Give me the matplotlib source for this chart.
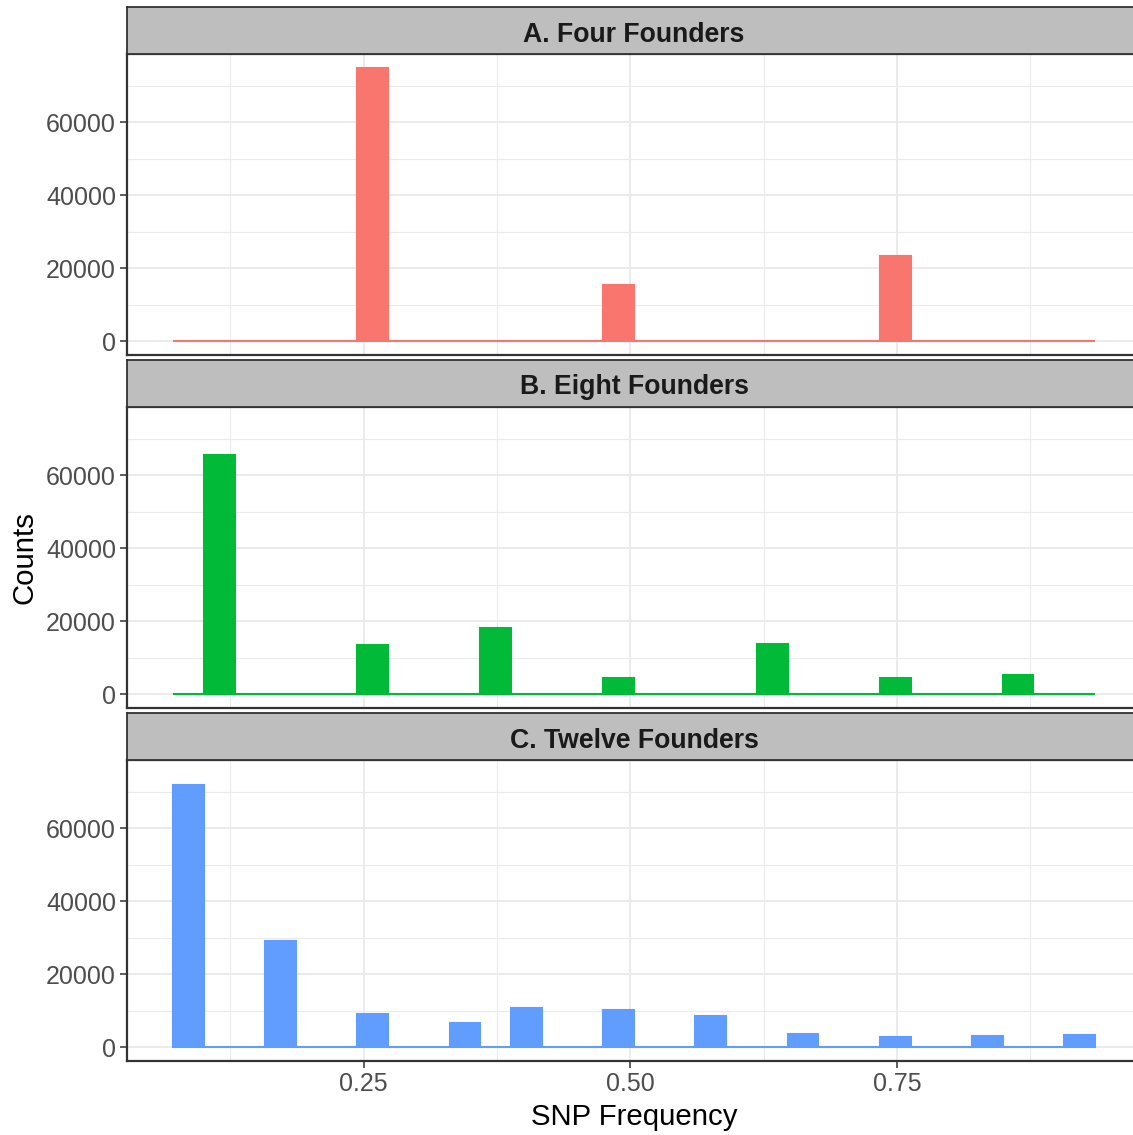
import matplotlib
matplotlib.use("Agg")
import matplotlib.pyplot as plt
import numpy as np

plt.rcParams['font.family'] = ['Liberation Sans', 'DejaVu Sans']

# histogram settings: 30 bins spanning the observed SNP frequencies
n_bins = 30
freq_min, freq_max = 0.0856, 0.9212

panel_titles = ["A. Four Founders", "B. Eight Founders", "C. Twelve Founders"]
panel_colors = ["#F8766D", "#00BA38", "#619CFF"]

# counts per bin (30 bins)
counts_four = [0] * 30
counts_four[6] = 75000
counts_four[14] = 15300
counts_four[23] = 23400

counts_eight = [0] * 30
counts_eight[1] = 65500
counts_eight[6] = 13400
counts_eight[10] = 18300
counts_eight[14] = 4600
counts_eight[19] = 13700
counts_eight[23] = 4600
counts_eight[27] = 5200

counts_twelve = [0] * 30
counts_twelve[0] = 71800
counts_twelve[3] = 29200
counts_twelve[6] = 9000
counts_twelve[9] = 6600
counts_twelve[11] = 10900
counts_twelve[14] = 10100
counts_twelve[17] = 8500
counts_twelve[20] = 3600
counts_twelve[23] = 2800
counts_twelve[26] = 3000
counts_twelve[29] = 3300

all_counts = [counts_four, counts_eight, counts_twelve]

x_major = [0.25, 0.50, 0.75]
x_minor = [0.125, 0.375, 0.625, 0.875]
y_major = [0, 20000, 40000, 60000]
y_minor = [10000, 30000, 50000, 70000]

W, H = 1133, 1135
fig = plt.figure(figsize=(W / 100, H / 100), dpi=100)

bw = (freq_max - freq_min) / (n_bins - 1)
edges = freq_min - bw / 2 + bw * np.arange(n_bins + 1)
xspan = edges[-1] - edges[0]
xlim = (edges[0] - 0.05 * xspan, edges[-1] + 0.05 * xspan)
ymax = max(max(c) for c in all_counts)
ylim = (-0.05 * ymax, 1.05 * ymax)

# the original panels run slightly past the right edge of the image
left, right = 127, 1141
panel_tops = [54, 407, 760]
panel_h = 301
strip_h = 47
border = "#333333"

for i, (title, col, counts) in enumerate(zip(panel_titles, panel_colors, all_counts)):
    top = panel_tops[i]
    ax = fig.add_axes([left / W, 1 - (top + panel_h) / H, (right - left) / W, panel_h / H])
    ax.bar(edges[:-1], counts, width=bw, align='edge', color=col,
           edgecolor=col, linewidth=1.5, zorder=3)
    ax.set_xlim(*xlim)
    ax.set_ylim(*ylim)
    ax.set_xticks(x_major)
    ax.set_xticks(x_minor, minor=True)
    ax.set_yticks(y_major)
    ax.set_yticks(y_minor, minor=True)
    ax.grid(which='major', color='#EBEBEB', linewidth=1.4, zorder=0)
    ax.grid(which='minor', color='#EBEBEB', linewidth=0.8, zorder=0)
    ax.set_axisbelow(True)
    ax.tick_params(which='minor', length=0)
    ax.tick_params(which='major', length=5, width=1.1, color=border,
                   labelsize=18, labelcolor='#4D4D4D', pad=3)
    for s in ax.spines.values():
        s.set_color(border)
        s.set_linewidth(1.6)
        s.set_zorder(5)
    if i < 2:
        ax.tick_params(axis='x', which='both', bottom=False, labelbottom=False)
    else:
        ax.set_xticklabels(["0.25", "0.50", "0.75"])
        ax.set_xlabel("SNP Frequency", fontsize=21.2, color='black', labelpad=5)

    sax = fig.add_axes([left / W, 1 - top / H, (right - left) / W, strip_h / H])
    sax.set_facecolor('#BEBEBE')
    sax.set_xticks([])
    sax.set_yticks([])
    for s in sax.spines.values():
        s.set_color(border)
        s.set_linewidth(1.3)
    # strip title, centred on the panel
    fig.text((left + right) / 2 / W, 1 - (top - strip_h / 2 + 4) / H, title,
             ha='center', va='center', fontsize=19.2, fontweight='bold',
             color='#1A1A1A')

fig.text(25 / W, 1 - 558 / H, "Counts", rotation=90, ha='center', va='center',
         fontsize=21.2, color='black')

fig.savefig("out.png", dpi=100)
